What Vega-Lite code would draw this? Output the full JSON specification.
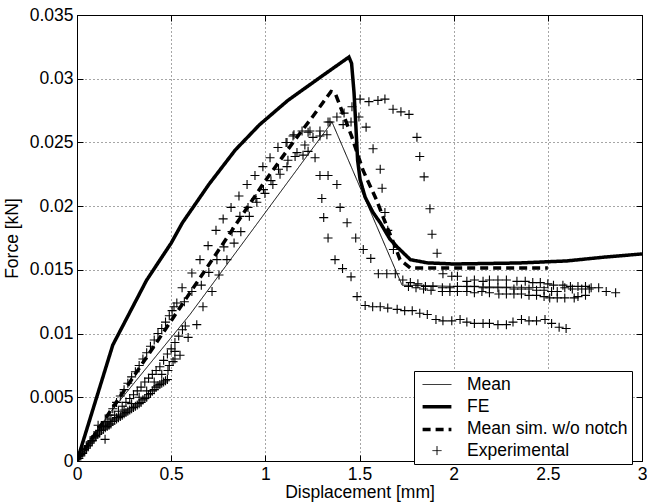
{
  "$schema": "https://vega.github.io/schema/vega-lite/v6.json",
  "width": 565,
  "height": 446,
  "autosize": {"type": "none"},
  "padding": {"left": 77, "top": 15, "right": 5, "bottom": 42},
  "background": "white",
  "config": {
    "font": "Liberation Sans",
    "view": {"stroke": "black", "strokeWidth": 1},
    "axis": {
      "domain": false,
      "gridColor": "#000000",
      "gridDash": [1, 3],
      "gridOpacity": 0.7,
      "gridWidth": 1,
      "tickColor": "black",
      "tickSize": -6,
      "labelFont": "Liberation Sans",
      "labelFontSize": 17.5,
      "labelColor": "black",
      "labelFlush": false,
      "labelOverlap": false,
      "titleFont": "Liberation Sans",
      "titleFontSize": 17.5,
      "titleFontWeight": "normal",
      "titleColor": "black"
    },
    "legend": {
      "orient": "none",
      "legendX": 337,
      "legendY": 356,
      "title": null,
      "strokeColor": "black",
      "fillColor": "white",
      "padding": 4,
      "symbolSize": 324,
      "symbolStrokeColor": "black",
      "symbolOpacity": 1,
      "symbolOffset": 8,
      "labelFont": "Liberation Sans",
      "labelFontSize": 17.5,
      "labelColor": "black",
      "labelOffset": 19,
      "rowPadding": 2.7,
      "labelLimit": 400
    }
  },
  "datasets": {
    "lines": [
      {"series": "Mean", "x": 0, "y": 0},
      {"series": "Mean", "x": 0.17, "y": 0.0037},
      {"series": "Mean", "x": 0.6, "y": 0.0115},
      {"series": "Mean", "x": 1.0, "y": 0.0195},
      {"series": "Mean", "x": 1.354, "y": 0.0266},
      {"series": "Mean", "x": 1.726, "y": 0.0138},
      {"series": "Mean", "x": 2.0, "y": 0.0137},
      {"series": "Mean", "x": 2.5, "y": 0.0136},
      {"series": "FE", "x": 0, "y": 0},
      {"series": "FE", "x": 0.19, "y": 0.0091},
      {"series": "FE", "x": 0.37, "y": 0.0142},
      {"series": "FE", "x": 0.5, "y": 0.0171},
      {"series": "FE", "x": 0.56, "y": 0.0187},
      {"series": "FE", "x": 0.7, "y": 0.0217},
      {"series": "FE", "x": 0.84, "y": 0.0244},
      {"series": "FE", "x": 0.97, "y": 0.0264},
      {"series": "FE", "x": 1.12, "y": 0.0283},
      {"series": "FE", "x": 1.3, "y": 0.0302},
      {"series": "FE", "x": 1.444, "y": 0.0317},
      {"series": "FE", "x": 1.458, "y": 0.0312},
      {"series": "FE", "x": 1.471, "y": 0.0289},
      {"series": "FE", "x": 1.481, "y": 0.0262},
      {"series": "FE", "x": 1.49, "y": 0.0236},
      {"series": "FE", "x": 1.503, "y": 0.0221},
      {"series": "FE", "x": 1.53, "y": 0.0207},
      {"series": "FE", "x": 1.572, "y": 0.0195},
      {"series": "FE", "x": 1.61, "y": 0.0187},
      {"series": "FE", "x": 1.662, "y": 0.0174},
      {"series": "FE", "x": 1.7, "y": 0.0168},
      {"series": "FE", "x": 1.77, "y": 0.0158},
      {"series": "FE", "x": 1.86, "y": 0.01555},
      {"series": "FE", "x": 2.0, "y": 0.01546},
      {"series": "FE", "x": 2.35, "y": 0.01554},
      {"series": "FE", "x": 2.6, "y": 0.0157},
      {"series": "FE", "x": 2.8, "y": 0.016},
      {"series": "FE", "x": 3.0, "y": 0.01625},
      {"series": "Mean sim. w/o notch", "x": 0, "y": 0},
      {"series": "Mean sim. w/o notch", "x": 0.19, "y": 0.0042},
      {"series": "Mean sim. w/o notch", "x": 0.6, "y": 0.0132},
      {"series": "Mean sim. w/o notch", "x": 1.0, "y": 0.022},
      {"series": "Mean sim. w/o notch", "x": 1.147, "y": 0.025},
      {"series": "Mean sim. w/o notch", "x": 1.25, "y": 0.027},
      {"series": "Mean sim. w/o notch", "x": 1.349, "y": 0.029},
      {"series": "Mean sim. w/o notch", "x": 1.37, "y": 0.0289},
      {"series": "Mean sim. w/o notch", "x": 1.405, "y": 0.02755},
      {"series": "Mean sim. w/o notch", "x": 1.459, "y": 0.02545},
      {"series": "Mean sim. w/o notch", "x": 1.519, "y": 0.0228},
      {"series": "Mean sim. w/o notch", "x": 1.59, "y": 0.0205},
      {"series": "Mean sim. w/o notch", "x": 1.645, "y": 0.0184},
      {"series": "Mean sim. w/o notch", "x": 1.69, "y": 0.0168},
      {"series": "Mean sim. w/o notch", "x": 1.715, "y": 0.0158},
      {"series": "Mean sim. w/o notch", "x": 1.77, "y": 0.01515},
      {"series": "Mean sim. w/o notch", "x": 2.5, "y": 0.01515}
    ],
    "exp": [
      {"series": "Experimental", "x": 0.01, "y": 0.0002},
      {"series": "Experimental", "x": 0.02, "y": 0.0004},
      {"series": "Experimental", "x": 0.03, "y": 0.0006},
      {"series": "Experimental", "x": 0.04, "y": 0.0008},
      {"series": "Experimental", "x": 0.05, "y": 0.001},
      {"series": "Experimental", "x": 0.06, "y": 0.0012},
      {"series": "Experimental", "x": 0.07, "y": 0.0014},
      {"series": "Experimental", "x": 0.08, "y": 0.0016},
      {"series": "Experimental", "x": 0.09, "y": 0.0018},
      {"series": "Experimental", "x": 0.1, "y": 0.0019},
      {"series": "Experimental", "x": 0.11, "y": 0.0021},
      {"series": "Experimental", "x": 0.12, "y": 0.0022},
      {"series": "Experimental", "x": 0.13, "y": 0.0024},
      {"series": "Experimental", "x": 0.14, "y": 0.0025},
      {"series": "Experimental", "x": 0.15, "y": 0.0026},
      {"series": "Experimental", "x": 0.16, "y": 0.0027},
      {"series": "Experimental", "x": 0.17, "y": 0.0028},
      {"series": "Experimental", "x": 0.18, "y": 0.0029},
      {"series": "Experimental", "x": 0.19, "y": 0.0031},
      {"series": "Experimental", "x": 0.2, "y": 0.0032},
      {"series": "Experimental", "x": 0.21, "y": 0.0033},
      {"series": "Experimental", "x": 0.22, "y": 0.0034},
      {"series": "Experimental", "x": 0.23, "y": 0.0035},
      {"series": "Experimental", "x": 0.24, "y": 0.0036},
      {"series": "Experimental", "x": 0.25, "y": 0.0037},
      {"series": "Experimental", "x": 0.26, "y": 0.0038},
      {"series": "Experimental", "x": 0.27, "y": 0.0039},
      {"series": "Experimental", "x": 0.28, "y": 0.004},
      {"series": "Experimental", "x": 0.29, "y": 0.0041},
      {"series": "Experimental", "x": 0.3, "y": 0.0042},
      {"series": "Experimental", "x": 0.31, "y": 0.0043},
      {"series": "Experimental", "x": 0.32, "y": 0.0044},
      {"series": "Experimental", "x": 0.33, "y": 0.0045},
      {"series": "Experimental", "x": 0.34, "y": 0.0046},
      {"series": "Experimental", "x": 0.35, "y": 0.0048},
      {"series": "Experimental", "x": 0.36, "y": 0.0049},
      {"series": "Experimental", "x": 0.37, "y": 0.005},
      {"series": "Experimental", "x": 0.38, "y": 0.0052},
      {"series": "Experimental", "x": 0.39, "y": 0.0053},
      {"series": "Experimental", "x": 0.4, "y": 0.0055},
      {"series": "Experimental", "x": 0.41, "y": 0.0056},
      {"series": "Experimental", "x": 0.42, "y": 0.0058},
      {"series": "Experimental", "x": 0.43, "y": 0.0059},
      {"series": "Experimental", "x": 0.44, "y": 0.006},
      {"series": "Experimental", "x": 0.45, "y": 0.0061},
      {"series": "Experimental", "x": 0.46, "y": 0.0062},
      {"series": "Experimental", "x": 0.47, "y": 0.0063},
      {"series": "Experimental", "x": 0.48, "y": 0.0064},
      {"series": "Experimental", "x": 0.483, "y": 0.0071},
      {"series": "Experimental", "x": 0.51, "y": 0.0078},
      {"series": "Experimental", "x": 0.52, "y": 0.008},
      {"series": "Experimental", "x": 0.547, "y": 0.0083},
      {"series": "Experimental", "x": 0.02, "y": 0.0005},
      {"series": "Experimental", "x": 0.04, "y": 0.0009},
      {"series": "Experimental", "x": 0.06, "y": 0.0012},
      {"series": "Experimental", "x": 0.08, "y": 0.0016},
      {"series": "Experimental", "x": 0.1, "y": 0.002},
      {"series": "Experimental", "x": 0.12, "y": 0.0024},
      {"series": "Experimental", "x": 0.14, "y": 0.0028},
      {"series": "Experimental", "x": 0.16, "y": 0.003},
      {"series": "Experimental", "x": 0.18, "y": 0.0033},
      {"series": "Experimental", "x": 0.2, "y": 0.0036},
      {"series": "Experimental", "x": 0.22, "y": 0.0039},
      {"series": "Experimental", "x": 0.24, "y": 0.0043},
      {"series": "Experimental", "x": 0.26, "y": 0.0046},
      {"series": "Experimental", "x": 0.28, "y": 0.0049},
      {"series": "Experimental", "x": 0.3, "y": 0.0052},
      {"series": "Experimental", "x": 0.32, "y": 0.0055},
      {"series": "Experimental", "x": 0.34, "y": 0.0058},
      {"series": "Experimental", "x": 0.36, "y": 0.0062},
      {"series": "Experimental", "x": 0.38, "y": 0.0065},
      {"series": "Experimental", "x": 0.4, "y": 0.0068},
      {"series": "Experimental", "x": 0.42, "y": 0.0071},
      {"series": "Experimental", "x": 0.44, "y": 0.0074},
      {"series": "Experimental", "x": 0.46, "y": 0.0079},
      {"series": "Experimental", "x": 0.48, "y": 0.0084},
      {"series": "Experimental", "x": 0.5, "y": 0.0088},
      {"series": "Experimental", "x": 0.52, "y": 0.0093},
      {"series": "Experimental", "x": 0.54, "y": 0.0098},
      {"series": "Experimental", "x": 0.56, "y": 0.0103},
      {"series": "Experimental", "x": 0.575, "y": 0.0106},
      {"series": "Experimental", "x": 0.17, "y": 0.0029},
      {"series": "Experimental", "x": 0.21, "y": 0.0034},
      {"series": "Experimental", "x": 0.25, "y": 0.004},
      {"series": "Experimental", "x": 0.29, "y": 0.0045},
      {"series": "Experimental", "x": 0.33, "y": 0.005},
      {"series": "Experimental", "x": 0.37, "y": 0.0055},
      {"series": "Experimental", "x": 0.41, "y": 0.0062},
      {"series": "Experimental", "x": 0.45, "y": 0.0068},
      {"series": "Experimental", "x": 0.49, "y": 0.0075},
      {"series": "Experimental", "x": 0.52, "y": 0.0086},
      {"series": "Experimental", "x": 0.03, "y": 0.0007},
      {"series": "Experimental", "x": 0.05, "y": 0.0011},
      {"series": "Experimental", "x": 0.07, "y": 0.0015},
      {"series": "Experimental", "x": 0.09, "y": 0.0019},
      {"series": "Experimental", "x": 0.11, "y": 0.0023},
      {"series": "Experimental", "x": 0.13, "y": 0.0027},
      {"series": "Experimental", "x": 0.15, "y": 0.0031},
      {"series": "Experimental", "x": 0.17, "y": 0.0036},
      {"series": "Experimental", "x": 0.19, "y": 0.0041},
      {"series": "Experimental", "x": 0.21, "y": 0.0046},
      {"series": "Experimental", "x": 0.23, "y": 0.0051},
      {"series": "Experimental", "x": 0.25, "y": 0.0056},
      {"series": "Experimental", "x": 0.27, "y": 0.0061},
      {"series": "Experimental", "x": 0.29, "y": 0.0066},
      {"series": "Experimental", "x": 0.31, "y": 0.007},
      {"series": "Experimental", "x": 0.33, "y": 0.0075},
      {"series": "Experimental", "x": 0.35, "y": 0.008},
      {"series": "Experimental", "x": 0.37, "y": 0.0085},
      {"series": "Experimental", "x": 0.39, "y": 0.009},
      {"series": "Experimental", "x": 0.41, "y": 0.0095},
      {"series": "Experimental", "x": 0.43, "y": 0.01},
      {"series": "Experimental", "x": 0.45, "y": 0.0104},
      {"series": "Experimental", "x": 0.47, "y": 0.0109},
      {"series": "Experimental", "x": 0.49, "y": 0.0114},
      {"series": "Experimental", "x": 0.505, "y": 0.0118},
      {"series": "Experimental", "x": 0.515, "y": 0.0121},
      {"series": "Experimental", "x": 0.53, "y": 0.0124},
      {"series": "Experimental", "x": 0.149, "y": 0.0017},
      {"series": "Experimental", "x": 0.112, "y": 0.0028},
      {"series": "Experimental", "x": 0.558, "y": 0.0136},
      {"series": "Experimental", "x": 0.61, "y": 0.01475},
      {"series": "Experimental", "x": 0.653, "y": 0.0158},
      {"series": "Experimental", "x": 0.696, "y": 0.0169},
      {"series": "Experimental", "x": 0.738, "y": 0.0181},
      {"series": "Experimental", "x": 0.776, "y": 0.019},
      {"series": "Experimental", "x": 0.818, "y": 0.0199},
      {"series": "Experimental", "x": 0.86, "y": 0.0208},
      {"series": "Experimental", "x": 0.903, "y": 0.0217},
      {"series": "Experimental", "x": 0.945, "y": 0.0224},
      {"series": "Experimental", "x": 0.987, "y": 0.0231},
      {"series": "Experimental", "x": 1.025, "y": 0.0238},
      {"series": "Experimental", "x": 1.067, "y": 0.0246},
      {"series": "Experimental", "x": 1.11, "y": 0.025},
      {"series": "Experimental", "x": 1.152, "y": 0.0256},
      {"series": "Experimental", "x": 1.195, "y": 0.0259},
      {"series": "Experimental", "x": 1.237, "y": 0.0259},
      {"series": "Experimental", "x": 1.333, "y": 0.0266},
      {"series": "Experimental", "x": 1.38, "y": 0.027},
      {"series": "Experimental", "x": 1.418, "y": 0.0273},
      {"series": "Experimental", "x": 1.46, "y": 0.0278},
      {"series": "Experimental", "x": 1.503, "y": 0.0284},
      {"series": "Experimental", "x": 1.55, "y": 0.0282},
      {"series": "Experimental", "x": 1.598, "y": 0.0283},
      {"series": "Experimental", "x": 1.635, "y": 0.0284},
      {"series": "Experimental", "x": 1.678, "y": 0.0276},
      {"series": "Experimental", "x": 1.72, "y": 0.0274},
      {"series": "Experimental", "x": 1.763, "y": 0.0272},
      {"series": "Experimental", "x": 1.805, "y": 0.0254},
      {"series": "Experimental", "x": 1.82, "y": 0.0239},
      {"series": "Experimental", "x": 1.843, "y": 0.0223},
      {"series": "Experimental", "x": 1.874, "y": 0.0198},
      {"series": "Experimental", "x": 1.885, "y": 0.0178},
      {"series": "Experimental", "x": 1.912, "y": 0.0163},
      {"series": "Experimental", "x": 1.943, "y": 0.0147},
      {"series": "Experimental", "x": 1.99, "y": 0.0145},
      {"series": "Experimental", "x": 2.02, "y": 0.0145},
      {"series": "Experimental", "x": 2.07, "y": 0.0141},
      {"series": "Experimental", "x": 2.11, "y": 0.0142},
      {"series": "Experimental", "x": 2.156, "y": 0.0141},
      {"series": "Experimental", "x": 2.19, "y": 0.0142},
      {"series": "Experimental", "x": 2.235, "y": 0.0142},
      {"series": "Experimental", "x": 2.28, "y": 0.0142},
      {"series": "Experimental", "x": 2.336, "y": 0.0141},
      {"series": "Experimental", "x": 2.38, "y": 0.0141},
      {"series": "Experimental", "x": 2.42, "y": 0.014},
      {"series": "Experimental", "x": 2.46, "y": 0.014},
      {"series": "Experimental", "x": 2.5, "y": 0.0139},
      {"series": "Experimental", "x": 2.53, "y": 0.0138},
      {"series": "Experimental", "x": 2.58, "y": 0.0138},
      {"series": "Experimental", "x": 2.62, "y": 0.0137},
      {"series": "Experimental", "x": 2.66, "y": 0.0137},
      {"series": "Experimental", "x": 2.7, "y": 0.0137},
      {"series": "Experimental", "x": 2.73, "y": 0.0136},
      {"series": "Experimental", "x": 2.77, "y": 0.0136},
      {"series": "Experimental", "x": 2.81, "y": 0.0133},
      {"series": "Experimental", "x": 2.86, "y": 0.0132},
      {"series": "Experimental", "x": 0.57, "y": 0.0125},
      {"series": "Experimental", "x": 0.61, "y": 0.0133},
      {"series": "Experimental", "x": 0.66, "y": 0.0138},
      {"series": "Experimental", "x": 0.7, "y": 0.0148},
      {"series": "Experimental", "x": 0.743, "y": 0.0158},
      {"series": "Experimental", "x": 0.78, "y": 0.0168},
      {"series": "Experimental", "x": 0.823, "y": 0.018},
      {"series": "Experimental", "x": 0.865, "y": 0.0192},
      {"series": "Experimental", "x": 0.908, "y": 0.0199},
      {"series": "Experimental", "x": 0.95, "y": 0.0206},
      {"series": "Experimental", "x": 0.99, "y": 0.0213},
      {"series": "Experimental", "x": 1.03, "y": 0.022},
      {"series": "Experimental", "x": 1.07, "y": 0.0229},
      {"series": "Experimental", "x": 1.115, "y": 0.0231},
      {"series": "Experimental", "x": 1.168, "y": 0.0242},
      {"series": "Experimental", "x": 1.21, "y": 0.0248},
      {"series": "Experimental", "x": 1.253, "y": 0.0254},
      {"series": "Experimental", "x": 1.29, "y": 0.0255},
      {"series": "Experimental", "x": 1.147, "y": 0.0255},
      {"series": "Experimental", "x": 1.227, "y": 0.0258},
      {"series": "Experimental", "x": 1.29, "y": 0.0259},
      {"series": "Experimental", "x": 1.327, "y": 0.0256},
      {"series": "Experimental", "x": 1.343, "y": 0.0266},
      {"series": "Experimental", "x": 1.227, "y": 0.0243},
      {"series": "Experimental", "x": 1.115, "y": 0.025},
      {"series": "Experimental", "x": 1.29, "y": 0.0224},
      {"series": "Experimental", "x": 1.3, "y": 0.0206},
      {"series": "Experimental", "x": 1.31, "y": 0.0191},
      {"series": "Experimental", "x": 1.333, "y": 0.0175},
      {"series": "Experimental", "x": 1.37, "y": 0.0158},
      {"series": "Experimental", "x": 1.41, "y": 0.0151},
      {"series": "Experimental", "x": 1.455, "y": 0.01445},
      {"series": "Experimental", "x": 1.487, "y": 0.0129},
      {"series": "Experimental", "x": 1.53, "y": 0.0122},
      {"series": "Experimental", "x": 1.57, "y": 0.0121},
      {"series": "Experimental", "x": 1.61, "y": 0.0121},
      {"series": "Experimental", "x": 1.65, "y": 0.012},
      {"series": "Experimental", "x": 1.7, "y": 0.0119},
      {"series": "Experimental", "x": 1.74, "y": 0.0118},
      {"series": "Experimental", "x": 1.78, "y": 0.0118},
      {"series": "Experimental", "x": 1.82, "y": 0.0116},
      {"series": "Experimental", "x": 1.86, "y": 0.0115},
      {"series": "Experimental", "x": 1.906, "y": 0.0111},
      {"series": "Experimental", "x": 1.943, "y": 0.011},
      {"series": "Experimental", "x": 1.99, "y": 0.011},
      {"series": "Experimental", "x": 2.034, "y": 0.0111},
      {"series": "Experimental", "x": 2.07, "y": 0.0109},
      {"series": "Experimental", "x": 2.11, "y": 0.0108},
      {"series": "Experimental", "x": 2.156, "y": 0.0108},
      {"series": "Experimental", "x": 2.19, "y": 0.0108},
      {"series": "Experimental", "x": 2.235, "y": 0.0107},
      {"series": "Experimental", "x": 2.28, "y": 0.0107},
      {"series": "Experimental", "x": 2.315, "y": 0.0109},
      {"series": "Experimental", "x": 2.36, "y": 0.0111},
      {"series": "Experimental", "x": 2.4, "y": 0.011},
      {"series": "Experimental", "x": 2.44, "y": 0.011},
      {"series": "Experimental", "x": 2.485, "y": 0.0111},
      {"series": "Experimental", "x": 2.52, "y": 0.0108},
      {"series": "Experimental", "x": 2.56, "y": 0.0105},
      {"series": "Experimental", "x": 2.597, "y": 0.0104},
      {"series": "Experimental", "x": 0.59, "y": 0.0097},
      {"series": "Experimental", "x": 0.636, "y": 0.0107},
      {"series": "Experimental", "x": 0.669, "y": 0.0121},
      {"series": "Experimental", "x": 0.717, "y": 0.0133},
      {"series": "Experimental", "x": 0.754, "y": 0.0146},
      {"series": "Experimental", "x": 0.796, "y": 0.0158},
      {"series": "Experimental", "x": 0.834, "y": 0.0171},
      {"series": "Experimental", "x": 0.87, "y": 0.018},
      {"series": "Experimental", "x": 0.915, "y": 0.0192},
      {"series": "Experimental", "x": 0.955, "y": 0.0203},
      {"series": "Experimental", "x": 0.998, "y": 0.021},
      {"series": "Experimental", "x": 1.04, "y": 0.0217},
      {"series": "Experimental", "x": 1.078, "y": 0.0225},
      {"series": "Experimental", "x": 1.12, "y": 0.0236},
      {"series": "Experimental", "x": 1.158, "y": 0.0239},
      {"series": "Experimental", "x": 1.2, "y": 0.024},
      {"series": "Experimental", "x": 1.264, "y": 0.0238},
      {"series": "Experimental", "x": 1.333, "y": 0.0224},
      {"series": "Experimental", "x": 1.38, "y": 0.0217},
      {"series": "Experimental", "x": 1.397, "y": 0.0199},
      {"series": "Experimental", "x": 1.434, "y": 0.0187},
      {"series": "Experimental", "x": 1.48, "y": 0.0175},
      {"series": "Experimental", "x": 1.52, "y": 0.0166},
      {"series": "Experimental", "x": 1.56, "y": 0.0159},
      {"series": "Experimental", "x": 1.6, "y": 0.0147},
      {"series": "Experimental", "x": 1.645, "y": 0.0147},
      {"series": "Experimental", "x": 1.69, "y": 0.0147},
      {"series": "Experimental", "x": 1.413, "y": 0.0264},
      {"series": "Experimental", "x": 1.455, "y": 0.0266},
      {"series": "Experimental", "x": 1.497, "y": 0.027},
      {"series": "Experimental", "x": 1.535, "y": 0.0262},
      {"series": "Experimental", "x": 1.572, "y": 0.0245},
      {"series": "Experimental", "x": 1.61, "y": 0.0229},
      {"series": "Experimental", "x": 1.62, "y": 0.0214},
      {"series": "Experimental", "x": 1.635, "y": 0.0195},
      {"series": "Experimental", "x": 1.65, "y": 0.0181},
      {"series": "Experimental", "x": 1.68, "y": 0.0166},
      {"series": "Experimental", "x": 1.73, "y": 0.0142},
      {"series": "Experimental", "x": 1.77, "y": 0.014},
      {"series": "Experimental", "x": 1.81, "y": 0.0139},
      {"series": "Experimental", "x": 1.85, "y": 0.0137},
      {"series": "Experimental", "x": 1.89, "y": 0.0137},
      {"series": "Experimental", "x": 1.94, "y": 0.0136},
      {"series": "Experimental", "x": 1.98, "y": 0.0136},
      {"series": "Experimental", "x": 2.02, "y": 0.0137},
      {"series": "Experimental", "x": 2.07, "y": 0.0137},
      {"series": "Experimental", "x": 2.11, "y": 0.0137},
      {"series": "Experimental", "x": 2.156, "y": 0.0136},
      {"series": "Experimental", "x": 2.19, "y": 0.0136},
      {"series": "Experimental", "x": 2.235, "y": 0.0136},
      {"series": "Experimental", "x": 2.28, "y": 0.0136},
      {"series": "Experimental", "x": 2.32, "y": 0.0135},
      {"series": "Experimental", "x": 2.36, "y": 0.0135},
      {"series": "Experimental", "x": 2.4, "y": 0.0135},
      {"series": "Experimental", "x": 2.44, "y": 0.0134},
      {"series": "Experimental", "x": 2.48, "y": 0.0134},
      {"series": "Experimental", "x": 2.52, "y": 0.0133},
      {"series": "Experimental", "x": 2.55, "y": 0.0133},
      {"series": "Experimental", "x": 2.59, "y": 0.0136},
      {"series": "Experimental", "x": 2.63, "y": 0.0135},
      {"series": "Experimental", "x": 2.68, "y": 0.0135},
      {"series": "Experimental", "x": 2.72, "y": 0.0135},
      {"series": "Experimental", "x": 1.76, "y": 0.0137},
      {"series": "Experimental", "x": 1.8, "y": 0.0136},
      {"series": "Experimental", "x": 1.84, "y": 0.0135},
      {"series": "Experimental", "x": 1.88, "y": 0.0134},
      {"series": "Experimental", "x": 1.94, "y": 0.0133},
      {"series": "Experimental", "x": 1.98, "y": 0.0133},
      {"series": "Experimental", "x": 2.02, "y": 0.0133},
      {"series": "Experimental", "x": 2.07, "y": 0.0133},
      {"series": "Experimental", "x": 2.11, "y": 0.0132},
      {"series": "Experimental", "x": 2.15, "y": 0.0133},
      {"series": "Experimental", "x": 2.19, "y": 0.0132},
      {"series": "Experimental", "x": 2.24, "y": 0.0131},
      {"series": "Experimental", "x": 2.28, "y": 0.0131},
      {"series": "Experimental", "x": 2.32, "y": 0.0131},
      {"series": "Experimental", "x": 2.36, "y": 0.0131},
      {"series": "Experimental", "x": 2.4, "y": 0.013},
      {"series": "Experimental", "x": 2.44, "y": 0.013},
      {"series": "Experimental", "x": 2.48, "y": 0.0129},
      {"series": "Experimental", "x": 2.51, "y": 0.0128},
      {"series": "Experimental", "x": 2.55, "y": 0.0128},
      {"series": "Experimental", "x": 2.59, "y": 0.0128},
      {"series": "Experimental", "x": 2.64, "y": 0.0128},
      {"series": "Experimental", "x": 2.66, "y": 0.0129},
      {"series": "Experimental", "x": 2.7, "y": 0.013}
    ]
  },
  "layer": [
    {
      "data": {"name": "lines"},
      "mark": {"type": "line", "color": "black", "opacity": 1, "clip": true},
      "encoding": {
        "x": {
          "field": "x", "type": "quantitative",
          "scale": {"domain": [0, 3], "nice": false, "zero": false},
          "axis": {"orient": "bottom", "title": "Displacement [mm]", "values": [0, 0.5, 1, 1.5, 2, 2.5, 3], "format": "~g", "grid": true, "labelPadding": 10, "titlePadding": 1}
        },
        "y": {
          "field": "y", "type": "quantitative",
          "scale": {"domain": [0, 0.035], "nice": false, "zero": false},
          "axis": {"orient": "left", "title": "Force [kN]", "values": [0, 0.005, 0.01, 0.015, 0.02, 0.025, 0.03, 0.035], "format": "~g", "grid": true, "labelPadding": 10, "titlePadding": 8}
        },
        "strokeDash": {
          "field": "series", "type": "nominal",
          "scale": {"domain": ["Mean", "FE", "Mean sim. w/o notch", "Experimental"], "range": [[1, 0], [1, 0], [8, 5], [1, 0]]}
        },
        "strokeWidth": {
          "field": "series", "type": "ordinal",
          "scale": {"type": "ordinal", "domain": ["Mean", "FE", "Mean sim. w/o notch", "Experimental"], "range": [1, 3.5, 3.5, 1]}
        }
      }
    },
    {
      "data": {"name": "exp"},
      "mark": {"type": "point", "color": "#000000", "filled": false, "opacity": 1, "size": 324, "strokeWidth": 1.1, "clip": true},
      "encoding": {
        "x": {
          "field": "x", "type": "quantitative",
          "scale": {"domain": [0, 3], "nice": false, "zero": false},
          "axis": {"orient": "top", "title": null, "labels": false, "grid": false, "values": [0, 0.5, 1, 1.5, 2, 2.5, 3]}
        },
        "y": {
          "field": "y", "type": "quantitative",
          "scale": {"domain": [0, 0.035], "nice": false, "zero": false},
          "axis": {"orient": "right", "title": null, "labels": false, "grid": false, "values": [0, 0.005, 0.01, 0.015, 0.02, 0.025, 0.03, 0.035]}
        },
        "shape": {
          "field": "series", "type": "nominal",
          "scale": {"domain": ["Mean", "FE", "Mean sim. w/o notch", "Experimental"], "range": ["M-1.6,0L1.6,0", "M-1.6,0L1.6,0", "M-1.6,0L1.6,0", "M-0.5,0L0.5,0M0,-0.5L0,0.5"]}
        }
      }
    }
  ],
  "resolve": {"axis": {"x": "independent", "y": "independent"}}
}
